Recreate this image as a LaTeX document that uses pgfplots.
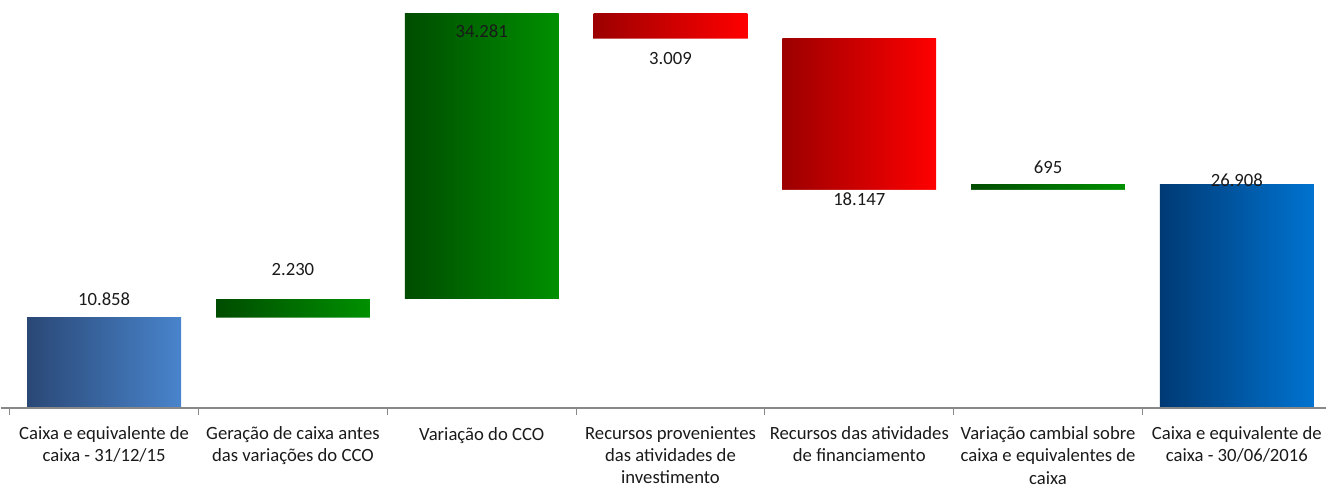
\documentclass[border=0pt]{standalone}
\usepackage{pgfplots}
\pgfplotsset{compat=1.18}
\usepackage{fontspec}
\setmainfont{Carlito}
\definecolor{bAl}{HTML}{2A4876}
\definecolor{bAr}{HTML}{4984CC}
\definecolor{gl}{HTML}{004C00}
\definecolor{gr}{HTML}{009000}
\definecolor{rl}{HTML}{9C0000}
\definecolor{rr}{HTML}{FF0000}
\definecolor{bBl}{HTML}{003A75}
\definecolor{bBr}{HTML}{0073D0}
\definecolor{axgray}{HTML}{888888}
\definecolor{txt}{HTML}{1A1A1A}
\begin{document}
\begin{tikzpicture}
\begin{axis}[
  scale only axis, width=1327pt, height=408.5pt,
  xmin=-0.5476, xmax=6.4735, ymin=0, ymax=49.01,
  axis x line=bottom, axis y line=left,
  x axis line style={-, draw=axgray, line width=1.5pt},
  y axis line style={-, draw=none},
  ytick=\empty,
  axis on top,
  clip=false,
  xtick={0,1,2,3,4,5,6},
  xticklabels={
    {Caixa e equivalente de\\caixa - 31/12/15},
    {Geração de caixa antes\\das variações do CCO},
    {Variação do CCO},
    {Recursos provenientes\\das atividades de\\investimento},
    {Recursos das atividades\\de financiamento},
    {Variação cambial sobre\\caixa e equivalentes de\\caixa},
    {Caixa e equivalente de\\caixa - 30/06/2016}},
  major tick length=0pt,
  minor xtick={-0.5,0.5,1.5,2.5,3.5,4.5,5.5},
  minor tick length=7pt,
  tick align=outside,
  every minor tick/.append style={draw=axgray, line width=1.2pt},
  xticklabel style={font=\fontsize{18.7}{22.5}\selectfont, text=txt, align=center,
    inner xsep=0pt, inner ysep=3pt, anchor=north, yshift=-15pt,
    execute at begin node={\rule{0pt}{14pt}}},
]
% cumulative tops of each bar
\addplot[ybar, bar width=0.8148, bar shift=0pt, draw=none, left color=bAl, right color=bAr] coordinates {(0,10.858)};
\addplot[ybar, bar width=0.8148, bar shift=0pt, draw=none, left color=gl, right color=gr] coordinates {(1,13.088)};
\addplot[ybar, bar width=0.8148, bar shift=0pt, draw=none, left color=gl, right color=gr] coordinates {(2,47.369)};
\addplot[ybar, bar width=0.8148, bar shift=0pt, draw=none, left color=rl, right color=rr] coordinates {(3,47.369)};
\addplot[ybar, bar width=0.8148, bar shift=0pt, draw=none, left color=rl, right color=rr] coordinates {(4,44.360)};
\addplot[ybar, bar width=0.8148, bar shift=0pt, draw=none, left color=gl, right color=gr] coordinates {(5,26.908)};
\addplot[ybar, bar width=0.8148, bar shift=0pt, draw=none, left color=bBl, right color=bBr] coordinates {(6,26.908)};
% floating bases (start of each step)
\addplot[ybar, bar width=0.83, bar shift=0pt, draw=none, fill=white] coordinates {(1,10.858) (2,13.088) (3,44.360) (4,26.213) (5,26.213)};
% value labels
\addplot[draw=none, mark=none, nodes near coords, point meta=explicit symbolic,
  every node near coord/.style={anchor=center, inner sep=0pt, text=txt, font=\fontsize{18.7}{22}\selectfont}]
  coordinates {(0,13.08)[10.858] (1,16.62)[2.230] (2,45.29)[34.281] (3,41.93)[3.009] (4,25.13)[18.147] (5,28.97)[695] (6,27.41)[26.908]};
\end{axis}
\end{tikzpicture}
\end{document}
